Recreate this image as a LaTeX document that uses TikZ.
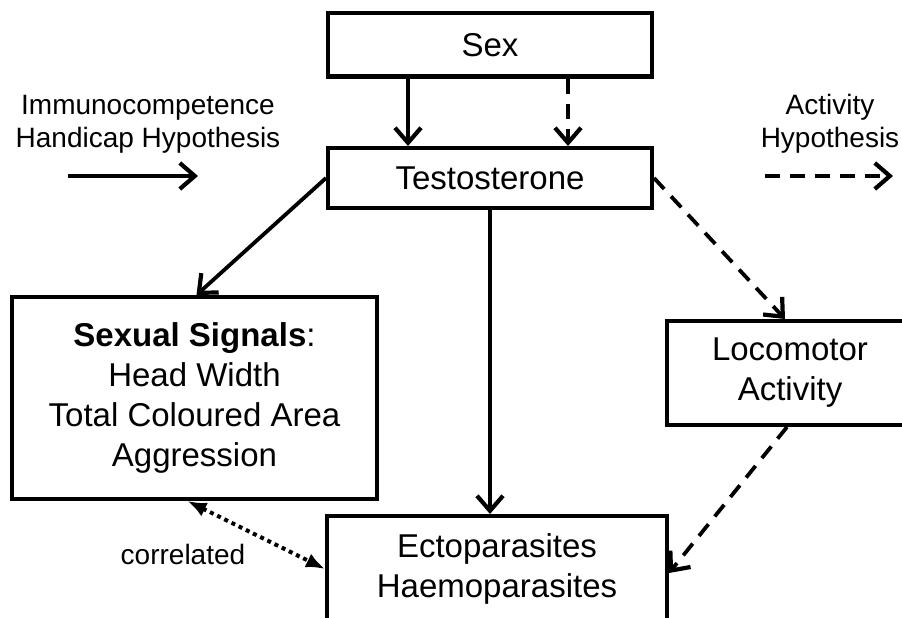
\documentclass[tikz,border=0pt]{standalone}
\usepackage{fontspec}
\setmainfont{Liberation Sans}
\usetikzlibrary{arrows.meta}
\begin{document}
\begin{tikzpicture}[x=1pt,y=-1pt,
  box/.style={draw,line width=4pt,rectangle,align=center,inner sep=0pt,
    font=\fontsize{33}{40}\selectfont},
  lbl/.style={align=center,inner sep=0pt,font=\fontsize{28}{33}\selectfont},
  conn/.style={line width=3.8pt,-{Straight Barb[length=15pt,width=26pt,line width=4.2pt]}},
  dsh/.style={conn,dash pattern=on 15pt off 10pt},
  dot/.style={line width=4pt,dash pattern=on 4pt off 4pt,
    {Latex[length=19pt,width=15pt]}-{Latex[length=19pt,width=15pt]}}
]
\useasboundingbox (0,0) rectangle (902,618);
\clip (0,0) rectangle (902,618);
\node[box,minimum width=324pt,minimum height=63pt] (sex) at (490,45) {Sex};
\node[box,minimum width=324pt,minimum height=60pt] (testo) at (490,178) {Testosterone};
\node[box,minimum width=365pt,minimum height=202pt] (sig) at (194.5,398)
  {\textbf{Sexual Signals}:\\Head Width\\Total Coloured Area\\Aggression};
\node[box,minimum width=246pt,minimum height=104pt] (loco) at (790,373)
  {Locomotor\\Activity};
\node[box,minimum width=340pt,minimum height=106pt] (ecto) at (497,569)
  {Ectoparasites\\Haemoparasites};
\node[lbl] (corr) at (183,554) {correlated};
\node[lbl] (ich) at (148,124) {Immunocompetence\\Handicap Hypothesis};
\node[lbl] (ah) at (830,124) {Activity\\Hypothesis};
\coordinate (xa) at (408,0);
\coordinate (xb) at (568,0);
\coordinate (l1s) at (68,176);
\coordinate (l1e) at (198,176);
\coordinate (l2s) at (765,176);
\coordinate (l2e) at (893,176);
\draw[conn] (sex.south -| xa) -- (testo.north -| xa);
\draw[dsh] (sex.south -| xb) -- (testo.north -| xb);
\draw[conn] (testo.west) -- ([xshift=2pt]sig.north);
\draw[conn] (testo.south) -- (ecto.north -| testo.south);
\draw[dsh] (testo.east) -- ([xshift=-5pt]loco.north);
\draw[dsh] ([xshift=-3pt]loco.south) -- ([yshift=-4pt]ecto.east);
\draw[dot] ([xshift=-7pt]sig.south) -- (ecto.west);
\draw[conn] (l1s) -- (l1e);
\draw[dsh] (l2s) -- (l2e);
\end{tikzpicture}
\end{document}
